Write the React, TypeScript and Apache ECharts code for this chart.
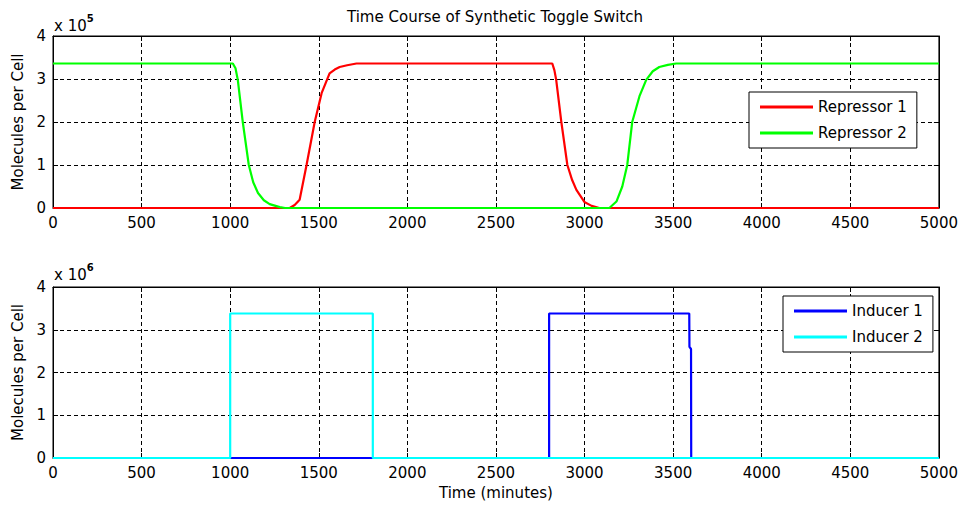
import React, { useEffect, useRef } from "react";
import * as echarts from "echarts";

// Repressor levels (units of 1e5 molecules per cell) against time in minutes
const rep1Time = [0, 1336, 1364, 1392, 1431, 1477, 1516, 1561, 1590, 1618, 1660, 1713, 2818, 2830, 2840, 2869, 2903, 2930, 2954, 2999, 3040, 3083, 5000];
const repressor1 = [0, 0, 0.07, 0.19, 1.0, 2.0, 2.67, 3.13, 3.22, 3.28, 3.32, 3.36, 3.36, 3.2, 2.98, 2.0, 1.0, 0.65, 0.42, 0.14, 0.05, 0, 0];

const rep2Time = [0, 1015, 1030, 1043, 1071, 1105, 1130, 1157, 1190, 1223, 1280, 1310, 3140, 3180, 3213, 3241, 3269, 3310, 3348, 3385, 3422, 3470, 3517, 5000];
const repressor2 = [3.36, 3.36, 3.25, 2.98, 2.0, 1.0, 0.6, 0.35, 0.18, 0.09, 0.02, 0, 0, 0.15, 0.5, 1.0, 2.0, 2.6, 2.98, 3.18, 3.28, 3.33, 3.36, 3.36];

// Inducer levels (units of 1e6 molecules per cell)
const ind1Time = [0, 2800, 2800, 3591, 3592, 3601, 3602, 5000];
const inducer1 = [0, 0, 3.38, 3.38, 2.6, 2.55, 0, 0];

const ind2Time = [0, 1000, 1000, 1805, 1805, 5000];
const inducer2 = [0, 0, 3.38, 3.38, 0, 0];

const FONT = "DejaVu Sans";
const FS = 15;

const pairs = (t: number[], v: number[]) => t.map((x, i) => [x, v[i]]);

const gridLine = { show: true, lineStyle: { color: "#000", width: 1, type: [4, 3] as number[] } };
const axisLine = { show: true, onZero: false, lineStyle: { color: "#000", width: 1 } };
const tick = { show: true, inside: true, length: 5, lineStyle: { color: "#000" } };
const plain = (v: number) => String(v);

function xAxes(gridIndex: number, withName: boolean) {
  return [
    {
      type: "value",
      gridIndex,
      min: 0,
      max: 5000,
      interval: 500,
      position: "bottom",
      axisLine,
      axisTick: tick,
      splitLine: gridLine,
      axisLabel: { color: "#000", fontFamily: FONT, fontSize: FS, margin: 7, formatter: plain },
      name: withName ? "Time (minutes)" : "",
      nameLocation: "middle",
      nameGap: 27,
      nameTextStyle: { color: "#000", fontFamily: FONT, fontSize: FS },
    },
    {
      type: "value",
      gridIndex,
      min: 0,
      max: 5000,
      interval: 500,
      position: "top",
      axisLine,
      axisTick: tick,
      splitLine: { show: false },
      axisLabel: { show: false },
    },
  ];
}

function yAxes(gridIndex: number) {
  return [
    {
      type: "value",
      gridIndex,
      min: 0,
      max: 4,
      interval: 1,
      position: "left",
      axisLine,
      axisTick: tick,
      splitLine: gridLine,
      axisLabel: { color: "#000", fontFamily: FONT, fontSize: FS, margin: 7, formatter: plain },
      name: "Molecules per Cell",
      nameLocation: "middle",
      nameRotate: 90,
      nameGap: 26,
      nameTextStyle: { color: "#000", fontFamily: FONT, fontSize: FS },
    },
    {
      type: "value",
      gridIndex,
      min: 0,
      max: 4,
      interval: 1,
      position: "right",
      axisLine,
      axisTick: tick,
      splitLine: { show: false },
      axisLabel: { show: false },
    },
  ];
}

function lineSeries(name: string, data: number[][], color: string, xi: number, yi: number) {
  return {
    name,
    type: "line",
    xAxisIndex: xi,
    yAxisIndex: yi,
    data,
    showSymbol: false,
    symbol: "none",
    lineStyle: { color, width: 2.2 },
    itemStyle: { color },
  };
}

function legend(names: string[], left: number, top: number) {
  return {
    data: names,
    orient: "vertical",
    left,
    top,
    icon: "rect",
    itemWidth: 53,
    itemHeight: 3,
    itemGap: 10,
    padding: [7, 10, 7, 11],
    backgroundColor: "#fff",
    borderColor: "#000",
    borderWidth: 1,
    borderRadius: 0,
    textStyle: { color: "#000", fontFamily: FONT, fontSize: FS, lineHeight: 16 },
  };
}

function exponent(power: string, y: number) {
  return {
    type: "text",
    x: 54,
    y,
    style: {
      text: `{b|x 10}{s|${power}}`,
      rich: {
        b: { fontFamily: FONT, fontSize: FS, fill: "#000", color: "#000", verticalAlign: "bottom" },
        s: { fontFamily: FONT, fontSize: 10, fontWeight: "bold", fill: "#000", color: "#000", padding: [0, 0, 10, 0] },
      },
    },
  };
}

export default function App() {
  const ref = useRef<HTMLDivElement>(null);

  useEffect(() => {
    if (!ref.current) return;
    const chart = echarts.init(ref.current, null, { renderer: "svg" });
    chart.setOption({
      animation: false,
      backgroundColor: "#fff",
      textStyle: { fontFamily: FONT },
      grid: [
        { left: 53, top: 36, width: 887, height: 172, show: true, borderColor: "#000", borderWidth: 1 },
        { left: 53, top: 287, width: 887, height: 171, show: true, borderColor: "#000", borderWidth: 1 },
      ],
      xAxis: [...xAxes(0, false), ...xAxes(1, true)],
      yAxis: [...yAxes(0), ...yAxes(1)],
      legend: [
        legend(["Repressor 1", "Repressor 2"], 749, 92),
        legend(["Inducer 1", "Inducer 2"], 783, 296),
      ],
      series: [
        lineSeries("Repressor 1", pairs(rep1Time, repressor1), "#ff0000", 0, 0),
        lineSeries("Repressor 2", pairs(rep2Time, repressor2), "#00ff00", 0, 0),
        lineSeries("Inducer 1", pairs(ind1Time, inducer1), "#0000ff", 2, 2),
        lineSeries("Inducer 2", pairs(ind2Time, inducer2), "#00ffff", 2, 2),
      ],
      graphic: [
        {
          type: "text",
          x: 495,
          y: 17,
          style: {
            text: "Time Course of Synthetic Toggle Switch",
            fontFamily: FONT,
            fontSize: FS,
            fill: "#000",
            textAlign: "center",
            textVerticalAlign: "middle",
            align: "center",
            verticalAlign: "middle",
          },
        },
        exponent("5", 13),
        exponent("6", 262),
      ],
    });
    return () => chart.dispose();
  }, []);

  return (
    <div
      ref={ref}
      style={{ position: "fixed", left: 0, top: 0, width: 961, height: 508, background: "#fff" }}
    />
  );
}
